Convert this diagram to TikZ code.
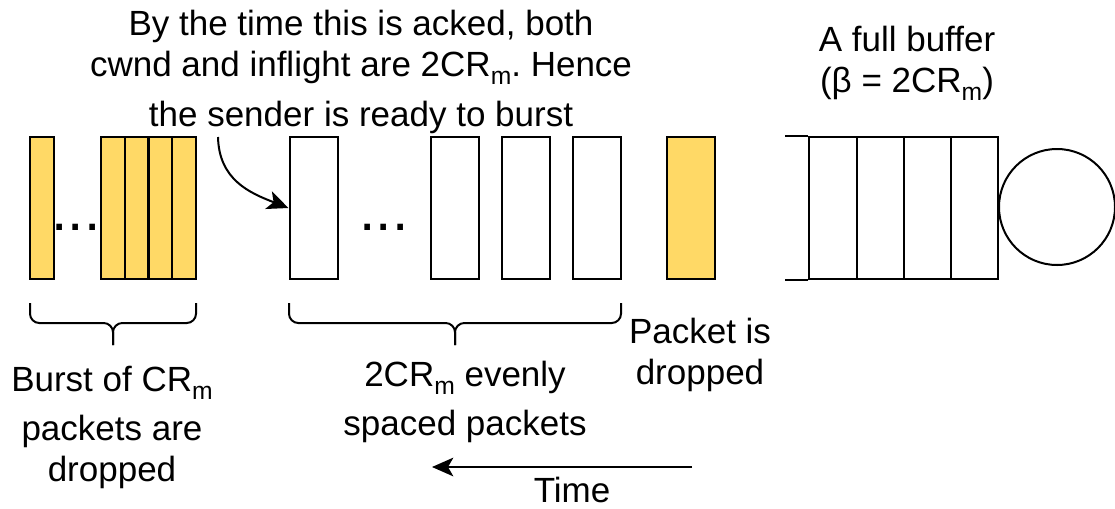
\documentclass[tikz,border=0pt]{standalone}
\usepackage{fontspec}
\setmainfont{Liberation Sans}
\usetikzlibrary{arrows.meta}
\definecolor{pktyellow}{HTML}{FFD966}
\newcommand\subtxt[1]{\raisebox{-6pt}{\fontsize{18.5pt}{18.5pt}\selectfont #1}}
\frenchspacing

\begin{document}
\begin{tikzpicture}[x=0.75pt, y=-0.75pt, line width=1.5pt,
    pkt/.style={rectangle, draw=black, inner sep=0pt, minimum width=36pt, minimum height=106.5pt},
    lost/.style={pkt, fill=pktyellow},
    lbl/.style={inner sep=0pt, anchor=north, align=center, font=\fontsize{26.25pt}{30.75pt}\selectfont},
    dots/.style={inner sep=0pt, anchor=base, font=\fontsize{44pt}{44pt}\selectfont},
    arr/.style={line width=1.5pt, -{Stealth[length=16pt, width=14pt, inset=4pt]}},
    brc/.style={line width=1.5pt, rounded corners=7pt}]
  \useasboundingbox (0,0) rectangle (1115,508);

  % dropped burst
  \node[lost, minimum width=18pt] (d0) at (42,208) {};
  \node[dots] (dl) at (76,230) {...};
  \foreach \i in {1,...,4}
    \node[lost, minimum width=17.81pt] (d\i) at (89.125+23.75*\i,208) {};

  % evenly spaced packets
  \node[pkt] (s1) at (313.5,208) {};
  \node[dots] (dm) at (384,230) {...};
  \node[pkt] (s2) at (455,208) {};
  \node[pkt] (s3) at (526,208) {};
  \node[pkt] (s4) at (597,208) {};
  \node[lost] (drop) at (691,208) {};

  % buffer, open on the left, and the server
  \foreach \i in {1,...,4}
    \node[pkt, minimum width=35.44pt] (b\i) at (785.75+47.25*\i,208) {};
  \draw (b1.north west) -- ++(-23,0);
  \draw (b1.south west) -- ++(-23,0);
  \node[circle, draw, inner sep=0pt, minimum size=87pt] (srv) at (1057,207) {};

  % braces
  \draw[brc] (30,303) |- (113,323) -- (113,345);
  \draw[brc] (196,303) |- (113,323) -- (113,345);
  \draw[brc] (289,303) |- (455,323) -- (455,345);
  \draw[brc] (621,303) |- (455,323) -- (455,345);

  \node[lbl] (ack) at (361,9) {By the time this is acked, both\\cwnd and inflight are 2CR\subtxt{m}. Hence\\[6.75pt]the sender is ready to burst};
  \coordinate (from) at (218,137);
  \draw[arr] (from) .. controls (219,180) and (250,193) .. (s1.west);

  \node[lbl] (full) at (907,25) {A full buffer\\(β = 2CR\subtxt{m})};
  \node[lbl] (burst) at (112,365) {Burst of CR\subtxt{m}\\[6pt]packets are\\dropped};
  \node[lbl] (even) at (465,360) {2CR\subtxt{m} evenly\\[6pt]spaced packets};
  \node[lbl] (dropped) at (700,317) {Packet is\\dropped};

  \node[lbl] (time) at (572,476) {Time};
  \coordinate (t0) at (692,467);
  \coordinate (t1) at (432,467);
  \draw[arr] (t0) -- (t1);
\end{tikzpicture}
\end{document}
